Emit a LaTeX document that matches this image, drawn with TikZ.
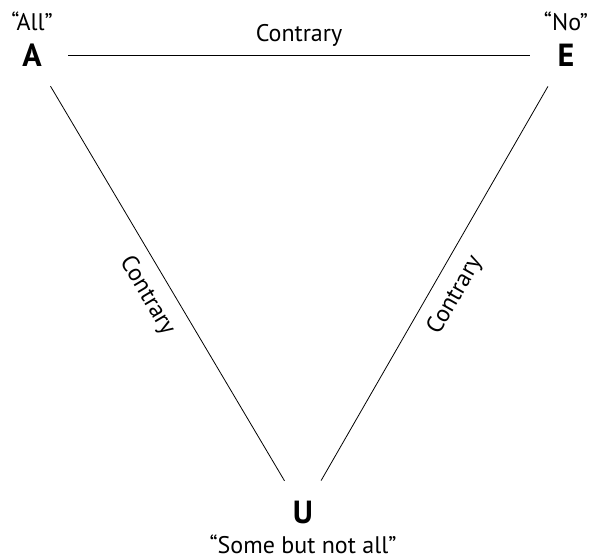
\documentclass[tikz,border=0pt]{standalone}
\usepackage{fontspec}
\setmainfont{PT Sans}
\usetikzlibrary{positioning}
\begin{document}
\begin{tikzpicture}[
  x=0.75pt, y=-0.75pt,
  font=\fontsize{18}{20}\selectfont,
  corner/.style={circle,minimum size=54pt,inner sep=0pt,
    font=\fontsize{24}{26}\selectfont\bfseries},
  quote/.style={inner sep=0pt},
  rel/.style={draw,line width=0.6pt}]
\useasboundingbox (0,0) rectangle (602,558);
% the three corners
\node[corner] (A) at (32,55) {A};
\node[corner] (E) at (566,55) {E};
\node[corner] (U) at (303,512) {U};
% readings
\node[quote] (all) at (32,21) {“All”};
\node[quote] (no) at (566,21) {“No”};
\node[quote] (some) at (303,544) {“Some but not all”};
% relations
\path[rel] (A) -- node[above=3pt] {Contrary} (E);
\path[rel] (A) -- node[sloped,below=6pt] {Contrary} (U);
\path[rel] (U) -- node[sloped,below=6pt] {Contrary} (E);
\end{tikzpicture}
\end{document}
